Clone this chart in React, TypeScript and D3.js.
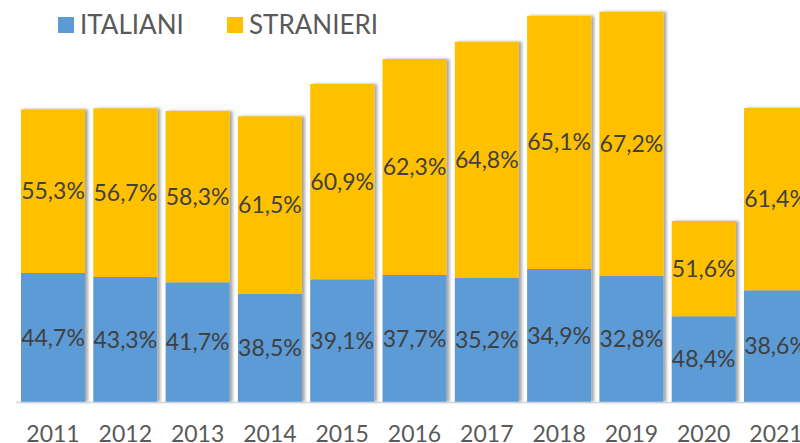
import React from "react";
import * as d3 from "d3";

// anni sull'asse x
const years = ["2011", "2012", "2013", "2014", "2015", "2016", "2017", "2018", "2019", "2020", "2021"];

// valori assoluti stimati dal grafico
const italiani = [1290, 1250, 1197, 1083, 1227, 1270, 1240, 1330, 1263, 857, 1117];
const stranieri = [1637, 1687, 1713, 1774, 1953, 2160, 2363, 2533, 2640, 953, 1823];

// etichette percentuali
const italianiPct = ["44,7%", "43,3%", "41,7%", "38,5%", "39,1%", "37,7%", "35,2%", "34,9%", "32,8%", "48,4%", "38,6%"];
const stranieriPct = ["55,3%", "56,7%", "58,3%", "61,5%", "60,9%", "62,3%", "64,8%", "65,1%", "67,2%", "51,6%", "61,4%"];

const W = 800;
const H = 443;
const FONT = "Lato, 'Open Sans', sans-serif";
const BLUE = "#5b9bd5";
const GOLD = "#ffc000";

export default function App() {
  const x = d3
    .scaleBand()
    .domain(years)
    .range([16.85, 16.85 + 72.3 * years.length])
    .paddingInner(0.115)
    .paddingOuter(0.0575);

  const y = d3.scaleLinear().domain([0, 4000]).range([402, 2]);

  const stack = years.map((yr, i) => ({
    yr,
    it: italiani[i],
    st: stranieri[i],
    itLbl: italianiPct[i],
    stLbl: stranieriPct[i],
  }));

  return (
    <svg
      width={W}
      height={H}
      style={{ position: "absolute", left: 0, top: 0, background: "#fff" }}
      fontFamily={FONT}
    >
      <defs>
        <filter id="shadow" x="-10%" y="-5%" width="130%" height="110%">
          <feDropShadow dx="3" dy="0" stdDeviation="1.8" floodColor="#000" floodOpacity="0.35" />
        </filter>
      </defs>

      {/* legenda */}
      <g>
        <rect x={58} y={17} width={16} height={16} fill={BLUE} />
        <text x={80} y={33.5} fontSize={26} fill="#595959">ITALIANI</text>
        <rect x={227} y={17} width={16} height={16} fill={GOLD} />
        <text x={249} y={33.5} fontSize={26} fill="#595959">STRANIERI</text>
      </g>

      {/* barre */}
      <g>
        {stack.map((d) => {
          const bx = x(d.yr)!;
          const bw = x.bandwidth();
          const yMid = y(d.it);
          const yTop = y(d.it + d.st);
          return (
            <g key={d.yr} filter="url(#shadow)">
              <rect x={bx} y={yMid} width={bw} height={y(0) - yMid} fill={BLUE} />
              <rect x={bx} y={yTop} width={bw} height={yMid - yTop} fill={GOLD} />
            </g>
          );
        })}
      </g>

      {/* asse */}
      <line x1={16} x2={W} y1={402.5} y2={402.5} stroke="#d0d4d8" strokeWidth={1.5} />

      {/* etichette dati */}
      <g fontSize={23} fill="#404040" textAnchor="middle">
        {stack.map((d) => {
          const cx = x(d.yr)! + x.bandwidth() / 2;
          return (
            <g key={d.yr}>
              <text x={cx} y={(y(0) + y(d.it)) / 2} dy="0.35em">{d.itLbl}</text>
              <text x={cx} y={(y(d.it) + y(d.it + d.st)) / 2} dy="0.35em">{d.stLbl}</text>
            </g>
          );
        })}
      </g>

      {/* etichette asse x */}
      <g fontSize={23} fill="#595959" textAnchor="middle">
        {years.map((yr) => (
          <text key={yr} x={x(yr)! + x.bandwidth() / 2} y={442}>{yr}</text>
        ))}
      </g>
    </svg>
  );
}
